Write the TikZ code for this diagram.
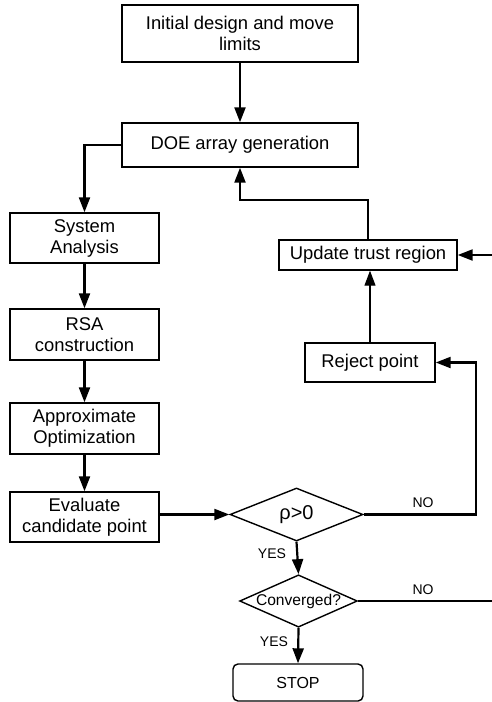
\documentclass[tikz,border=0pt]{standalone}
\usepackage{fontspec}
\setmainfont{Liberation Sans}
\usetikzlibrary{shapes.geometric,arrows.meta}
\begin{document}
\begin{tikzpicture}[x=1pt,y=-1pt,
  box/.style={draw,line width=1.4pt,align=center,inner sep=0pt,font=\fontsize{18.4}{21}\selectfont},
  dec/.style={draw,line width=1.4pt,diamond,inner sep=0pt,align=center},
  conn/.style={line width=2.2pt,-{Triangle[length=15pt,width=11pt]}},
  thinconn/.style={line width=1.2pt,-{Triangle[length=15pt,width=11pt]}},
  lbl/.style={font=\fontsize{14}{16}\selectfont,inner sep=0pt}]
\useasboundingbox (0,0) rectangle (492,702);
\node[box,minimum width=236pt,minimum height=57pt] (init) at (240,33.5) {Initial design and move\\limits};
\node[box,minimum width=236pt,minimum height=44pt] (doe) at (240,145) {DOE array generation};
\node[box,minimum width=149pt,minimum height=50pt] (sa) at (84.5,238) {System\\Analysis};
\node[box,minimum width=149pt,minimum height=51pt] (rsa) at (84.5,334.5) {RSA\\construction};
\node[box,minimum width=149pt,minimum height=51pt] (ao) at (84.5,428.5) {Approximate\\Optimization};
\node[box,minimum width=149pt,minimum height=50pt] (ev) at (84.5,517) {Evaluate\\candidate point};
\node[box,minimum width=178pt,minimum height=30pt] (upd) at (368,255) {Update trust region};
\node[box,minimum width=130pt,minimum height=39pt] (rej) at (370,362.5) {Reject point};
\node[dec,aspect=2.5,minimum width=133pt,minimum height=53pt,font=\fontsize{20}{22}\selectfont] (rho) at (296.5,514.5) {ρ>0};
\node[dec,aspect=2.25,minimum width=117pt,minimum height=52pt,font=\fontsize{15.6}{17}\selectfont] (conv) at (298.5,601) {Converged?};
\node[box,rounded corners=5pt,minimum width=130pt,minimum height=37pt,font=\fontsize{16}{18}\selectfont] (stop) at (298,682.5) {STOP};
\coordinate (j) at (240,200);
\coordinate (nr) at (476,514.5);
\coordinate (e1) at (492,255);
\coordinate (e2) at (492,601);
\draw[conn] (init) -- (doe);
\draw[conn] (doe.west) -| (sa.north);
\draw[conn] (sa) -- (rsa);
\draw[conn] (rsa) -- (ao);
\draw[conn] (ao) -- (ev);
\draw[conn] (ev.east |- rho) -- (rho.west);
\draw[conn] (rho.south) -- (conv.north);
\draw[conn] (conv.south) -- (stop.north);
\draw[conn] (rho.east) -- (nr) |- (rej.east);
\draw[line width=2.2pt] (conv.east) -- (e2);
\draw[conn] (e1) -- (upd.east);
\draw[thinconn] (rej.north) -- (rej.north |- upd.south);
\draw[conn] (upd.north) |- (j) -- (doe.south);
\node[lbl] at (423,503) {NO};
\node[lbl] at (423,590) {NO};
\node[lbl] at (272,554) {YES};
\node[lbl] at (274,642) {YES};
\end{tikzpicture}
\end{document}
